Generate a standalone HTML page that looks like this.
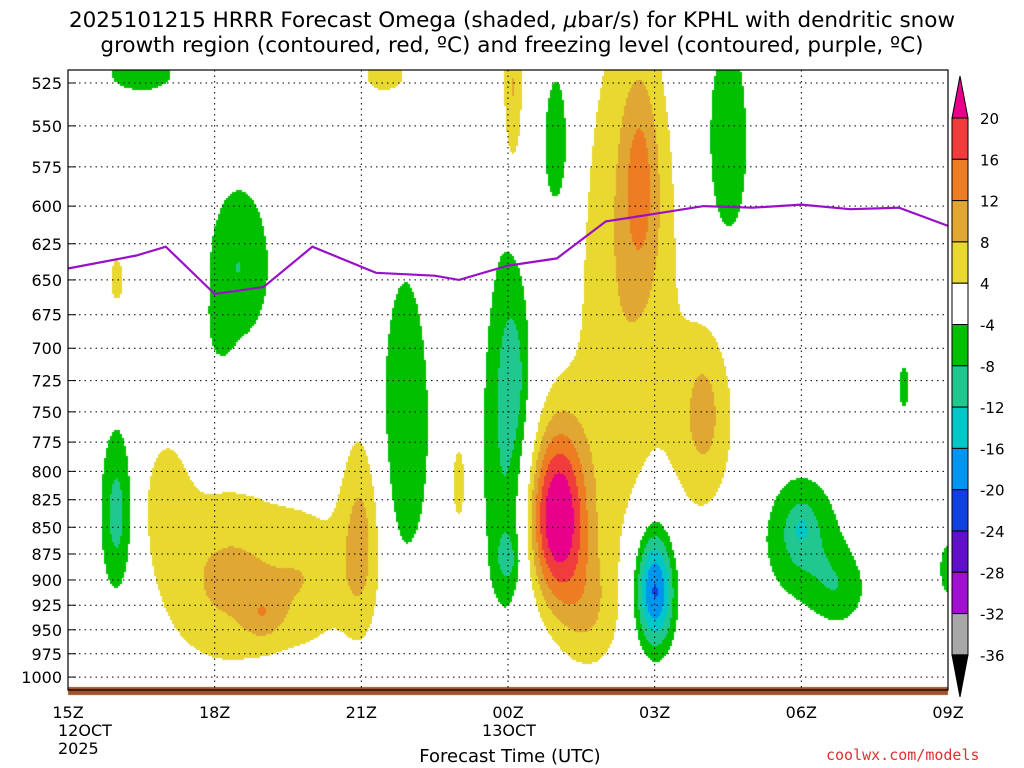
<!DOCTYPE html>
<html><head><meta charset="utf-8">
<style>
html,body{margin:0;padding:0;background:#fff;}
#wrap{position:relative;width:1024px;height:768px;overflow:hidden;font-family:"DejaVu Sans","Liberation Sans",sans-serif;}
.t{position:absolute;white-space:nowrap;color:#000;}
</style></head>
<body>
<div id="wrap">
<div class="t" style="left:0;width:1024px;text-align:center;top:8px;font-size:21.5px;line-height:25px;">2025101215 HRRR Forecast Omega (shaded, <i>μ</i>bar/s) for KPHL with dendritic snow<br>growth region (contoured, red, ºC) and freezing level (contoured, purple, ºC)</div>
<canvas id="cv" width="1024" height="768" style="position:absolute;left:0;top:0"></canvas>
<svg id="sv" width="1024" height="768" style="position:absolute;left:0;top:0"></svg>
<div class="t" style="left:0;width:1020px;text-align:center;top:746px;font-size:18px;">Forecast Time (UTC)</div>
<div class="t" style="left:826px;top:746px;font-size:15px;color:#e03030;font-family:'DejaVu Sans Mono','Liberation Mono',monospace;">coolwx.com/models</div>
</div>
<script>
// ---- data ----
const levels = [525,550,575,600,625,650,675,700,725,750,775,800,825,850,875,900,925,950,975,1000];
const timeTicks = [0,3,6,9,12,15,18];
const timeLabels = ["15Z","18Z","21Z","00Z","03Z","06Z","09Z"];
// omega features: [hour, pressure, sigmaHour, sigmaP, amplitude]
const blobT = [1.0,1.5,1.0,3.3,4.0,6.0,2.0,3.5,3.1,6.9,8.0,9.0,9.1,9.0,10.0,11.7,11.2,13.0,12.0,15.0,13.5,10.0,17.1,18.0,6.5,9.1,15.0,10.6,5.0,11.8,15.8,13.0];
const blobP = [840,520,650,900,935,860,820,640,690,760,810,780,720,880,840,580,700,760,910,860,560,560,730,890,520,530,850,930,900,600,910,750];
const blobST= [0.35,0.8,0.25,1.5,0.4,0.45,0.5,0.7,0.3,0.55,0.2,0.55,0.25,0.25,0.6,0.35,1.0,0.8,0.4,0.8,0.45,0.3,0.15,0.2,0.6,0.22,0.25,0.6,0.8,0.7,0.6,0.35];
const blobSP= [80,12,30,90,25,100,60,60,30,130,50,170,50,25,80,60,250,100,60,60,70,50,25,30,15,55,20,60,70,100,40,45];
const blobA = [-10,-7,5,9,5,9,5,-8,-3,-8,6,-9,-4,-5,24,6,6,6,-22,-9,-8,-8,-6,-7,6,9,-4,6,5,5,-6,4];
// freezing level line
const fzT = [0,1.4,2.0,3.0,4.0,5.0,6.3,7.5,8.0,9.0,10.0,11.0,12.0,13.0,14.0,15.0,16.0,17.0,18.0];
const fzP = [642,633,627,660,655,627,645,647,650,640,635,610,605,600,601,599,602,601,613];
const cbLevels = [20,16,12,8,4,-4,-8,-12,-16,-20,-24,-28,-32,-36];
const cbColors = ["#e8008a","#f03c3c","#ee7c22","#e0a832","#e8d830","#ffffff","#00c000","#20c890","#00c8c8","#0096f0","#1040e0","#6010c8","#a010d0","#a8a8a8","#000000"];

// ---- axes ----
const X0=68,X1=948,Y0=70,Y1=690;
const xs=t=>X0+(X1-X0)*t/18;
const ys=p=>83+922*Math.log(p/525);
const pFromY=y=>525*Math.exp((y-83)/922);
function colorFor(v){
  if(v>=20)return cbColors[0];
  for(let i=1;i<cbLevels.length;i++){if(v>=cbLevels[i])return cbColors[i];}
  return cbColors[14];
}
// ---- shading ----
const ctx=document.getElementById('cv').getContext('2d');
const step=2;
for(let y=Y0;y<Y1;y+=step){
  const p=pFromY(y+1);
  for(let x=X0;x<X1;x+=step){
    const t=(x+1-X0)/(X1-X0)*18;
    let v=0;
    for(let k=0;k<blobT.length;k++){
      const dt=(t-blobT[k])/blobST[k],dp=(p-blobP[k])/blobSP[k];
      const e=dt*dt+dp*dp; if(e<12)v+=blobA[k]*Math.exp(-e);
    }
    if(v>=4||v<-4){ctx.fillStyle=colorFor(v);ctx.fillRect(x,y,step,step);}
  }
}
// terrain
ctx.fillStyle="#a0522d";ctx.fillRect(X0,687,X1-X0,8);
// ---- svg overlay ----
const NS="http://www.w3.org/2000/svg";
const sv=document.getElementById('sv');
const FF='DejaVu Sans, Liberation Sans, sans-serif';
function mk(tag,at,txt){const e=document.createElementNS(NS,tag);for(const k in at)e.setAttribute(k,at[k]);if(txt!==undefined)e.textContent=txt;sv.appendChild(e);return e;}
levels.forEach(p=>{
  const y=ys(p);
  const g=mk('line',{x1:X0,x2:X1,y1:y,y2:y,stroke:'#000','stroke-dasharray':'1.5,4','stroke-width':1});
  
  
  const tk=mk('line',{x1:X0,x2:X0+8,y1:y,y2:y,stroke:'#000'});
  
  
  const lb=mk('text',{x:X0-6,y:y+6,'text-anchor':'end','font-size':16,'font-family':FF},String(p));
  
  
});
timeTicks.forEach((t,i)=>{
  const x=xs(t);
  if(i>0&&i<timeTicks.length-1){const g=mk('line',{x1:x,x2:x,y1:Y0,y2:Y1,stroke:'#000','stroke-dasharray':'1.5,4'});
  
  }
  const lb=mk('text',{x:x,y:718,'text-anchor':'middle','font-size':16,'font-family':FF},timeLabels[i]);
  
  
});
[["12OCT",58,736,'start'],["2025",58,754,'start'],["13OCT",509,736,'middle']].forEach(a=>{
  const lb=mk('text',{x:a[1],y:a[2],'text-anchor':a[3],'font-size':16,'font-family':FF},a[0]);
  
  
});
// freezing line
let d='';fzT.forEach((t,i)=>{d+=(i?'L':'M')+xs(t).toFixed(1)+','+ys(fzP[i]).toFixed(1);});
const fl=mk('path',{d:d,fill:'none',stroke:'#9a10c8','stroke-width':2.2});


// frame
const fr=mk('rect',{x:X0,y:Y0,width:X1-X0,height:Y1-Y0,fill:'none',stroke:'#000','stroke-width':1.2});


// colorbar
const cbX=952,cbW=16,cb0=118,cbD=41.3;
for(let i=0;i<cbColors.length;i++){
  let el;
  if(i==0){el=mk('path',{d:`M${cbX},${cb0} L${cbX+cbW},${cb0} L${cbX+cbW/2},${cb0-42}Z`,fill:cbColors[0],stroke:'#000'});}
  else if(i==cbColors.length-1){const yy=cb0+cbD*13;el=mk('path',{d:`M${cbX},${yy} L${cbX+cbW},${yy} L${cbX+cbW/2},${yy+42}Z`,fill:cbColors[i],stroke:'#000'});}
  else{el=mk('rect',{x:cbX,y:cb0+cbD*(i-1),width:cbW,height:cbD,fill:cbColors[i],stroke:'#000'});}
  
  
}
cbLevels.forEach((v,i)=>{
  const lb=mk('text',{x:980,y:cb0+cbD*i+6,'font-size':15,'font-family':FF},String(v));
  
  
});
</script>
</body></html>
